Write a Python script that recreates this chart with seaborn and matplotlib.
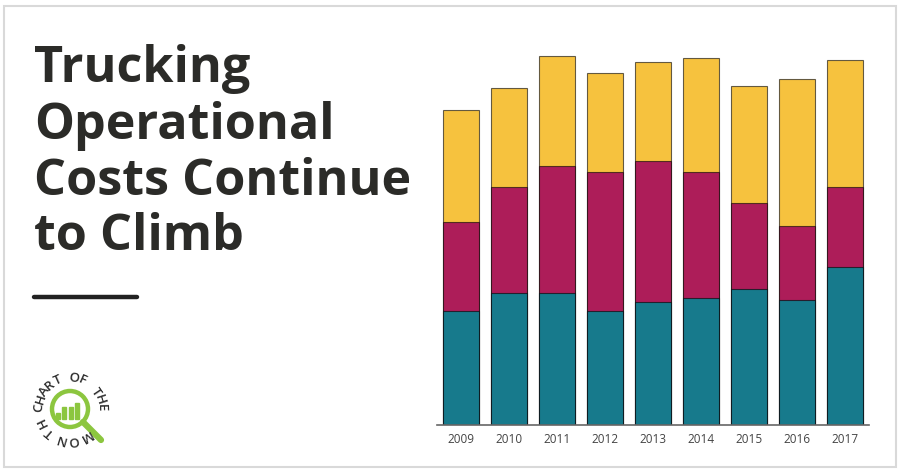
import numpy as np
import pandas as pd
import matplotlib.pyplot as plt
import seaborn as sns
from matplotlib.patches import Rectangle, Ellipse
from matplotlib.lines import Line2D

# operating cost per mile (stacked: driver, fuel, other)
years = ["2009", "2010", "2011", "2012", "2013", "2014", "2015", "2016", "2017"]
driver = [0.53, 0.61, 0.61, 0.53, 0.57, 0.59, 0.63, 0.58, 0.73]
fuel = [0.41, 0.49, 0.59, 0.64, 0.65, 0.58, 0.40, 0.34, 0.37]
other = [0.52, 0.46, 0.51, 0.46, 0.46, 0.53, 0.54, 0.68, 0.59]

title_lines = ["Trucking", "Operational", "Costs Continue", "to Climb"]
logo_top = "CHART OF THE"
logo_bottom = "MONTH"

teal = "#177a8c"
magenta = "#ad1d59"
yellow = "#f6c23e"
green = "#8cc63f"

df = pd.DataFrame({"year": years, "driver": driver, "fuel": fuel, "other": other})
df["driver_fuel"] = df["driver"] + df["fuel"]
df["total"] = df["driver_fuel"] + df["other"]

sns.set_theme(style="white")
plt.rcParams["font.family"] = ["Open Sans", "DejaVu Sans"]

W, H = 900, 473


def fx(px):
    return px / W


def fy(py):
    return 1 - py / H


fig = plt.figure(figsize=(9, 4.73), dpi=100)
fig.patch.set_facecolor("white")

ax = fig.add_axes([fx(437), fy(425), 432 / W, 385 / H])
for col, c in [("total", yellow), ("driver_fuel", magenta), ("driver", teal)]:
    sns.barplot(data=df, x="year", y=col, order=years, color=c, saturation=1,
                width=0.75, edgecolor=(0, 0, 0, 0.6), linewidth=0.8, ax=ax)

ax.set_xlim(-0.49, 8.5)
ax.set_ylim(0, 385 / 216)
ax.set_yticks([])
ax.set_xlabel("")
ax.set_ylabel("")
for s in ["top", "left", "right"]:
    ax.spines[s].set_visible(False)
ax.spines["bottom"].set_color("#666666")
ax.spines["bottom"].set_linewidth(1.2)
ax.tick_params(axis="x", length=0, pad=6, labelsize=8.5, colors="#444444")

# title
baselines = [82, 139, 195, 250]
for line, b in zip(title_lines, baselines):
    fig.text(fx(34), fy(b), line, fontsize=36.3, fontweight="bold",
             color="#2b2b28", va="baseline", ha="left")

# underline
fig.add_artist(Line2D([fx(34), fx(137)], [fy(297), fy(297)], color="#222222",
                      linewidth=3.2, transform=fig.transFigure))

# logo
cx, cy = 70, 409
r = 18
fig.add_artist(Ellipse((fx(cx), fy(cy)), 2 * r / W, 2 * r / H, transform=fig.transFigure,
                       fill=False, edgecolor=green, linewidth=3.2))
fig.add_artist(Line2D([fx(cx + 13), fx(101)], [fy(cy + 13), fy(440)], color=green,
                      linewidth=4.5, solid_capstyle="round", transform=fig.transFigure))
for x0, h in zip([56, 62.3, 68.5, 74.8], [6, 12, 12, 16]):
    fig.add_artist(Rectangle((fx(x0), fy(419)), 4 / W, h / H, color=green,
                             transform=fig.transFigure))

R = 31
angles = [-88 + i * 16 for i in range(len(logo_top))]
angles += [150 + i * 23.5 for i in range(len(logo_bottom))]
for ch, th in zip(logo_top + logo_bottom, angles):
    if ch == " ":
        continue
    t = np.radians(th)
    px = cx + R * np.sin(t)
    py = cy - R * np.cos(t)
    fig.text(fx(px), fy(py), ch, fontsize=9.5, fontweight="semibold", color="#2a2a2a",
             ha="center", va="center", rotation=-th, rotation_mode="anchor")

# frame
fig.add_artist(Rectangle((fx(4), fy(467)), 892 / W, 461 / H, fill=False,
                         edgecolor="#d9d9d9", linewidth=1.5, transform=fig.transFigure))

fig.savefig("out.png", dpi=100)
